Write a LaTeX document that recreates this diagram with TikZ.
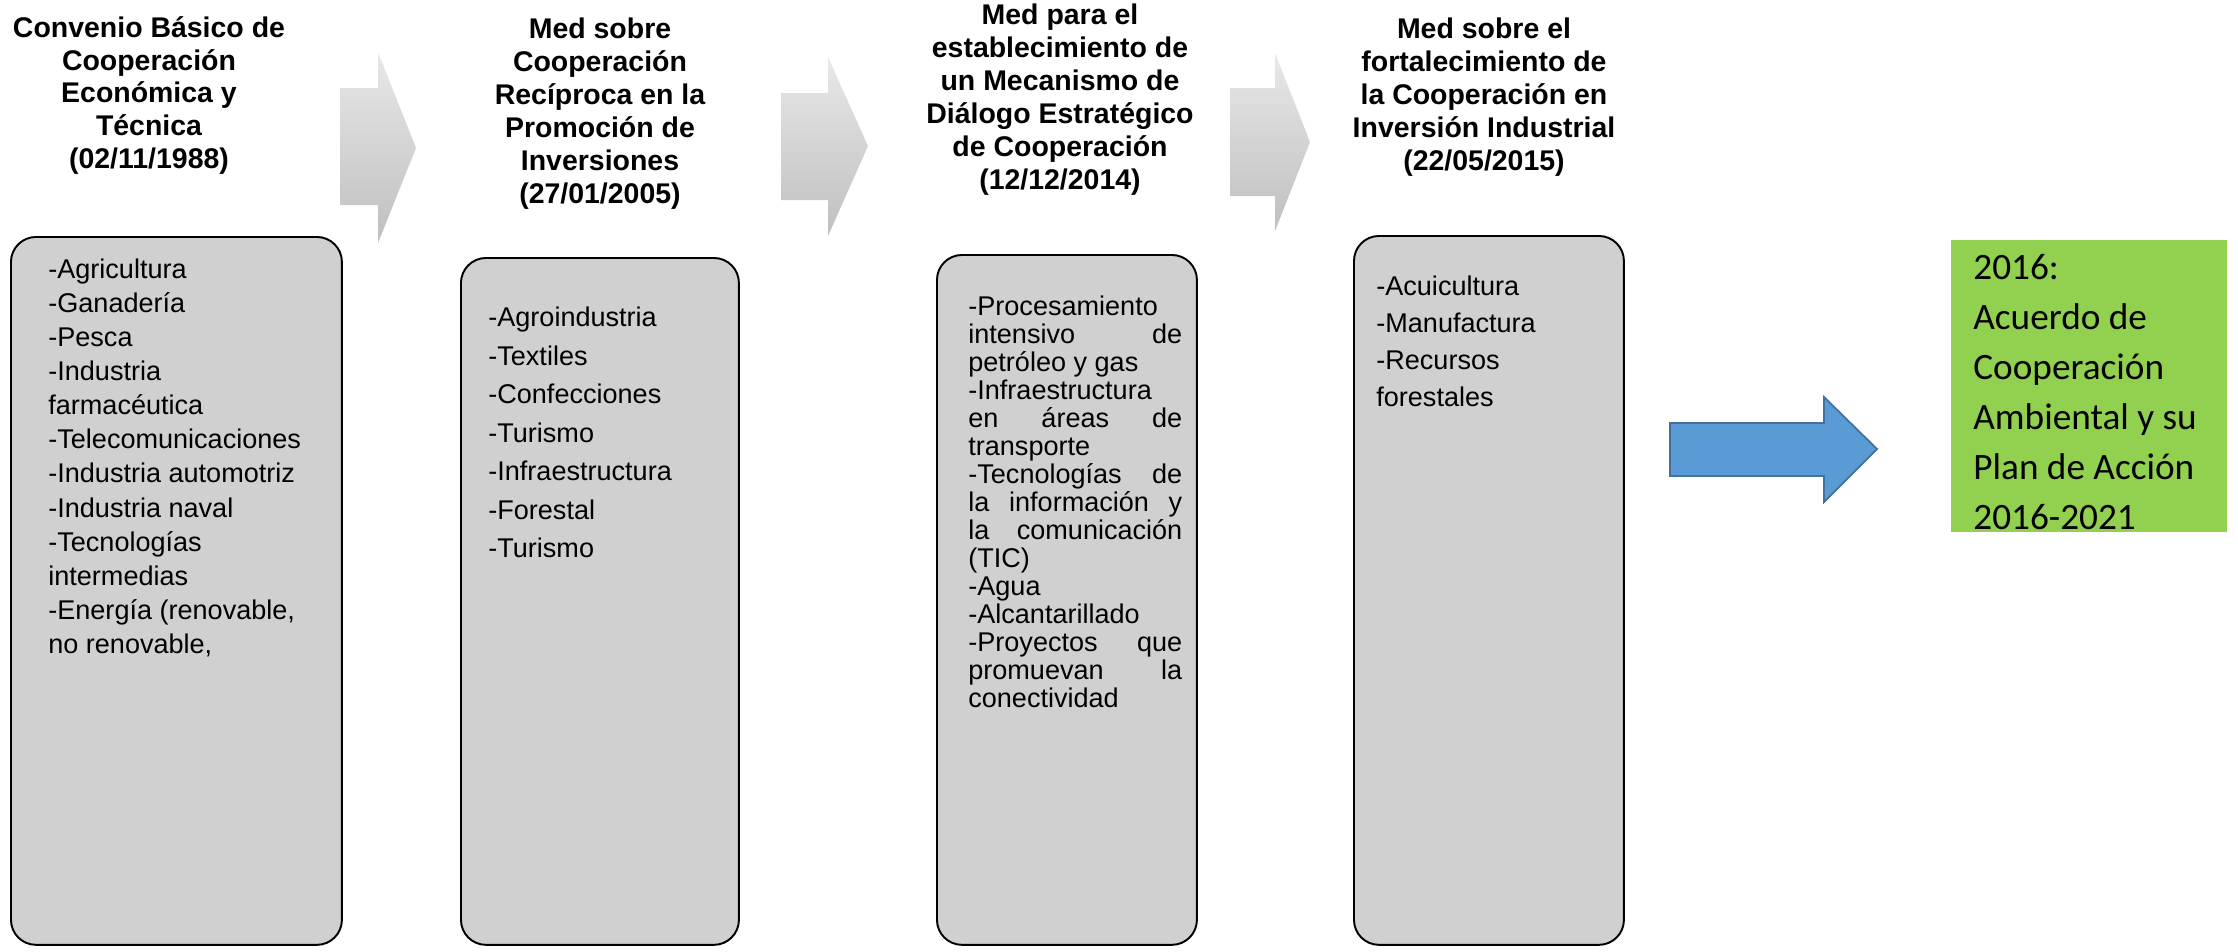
\documentclass[tikz,border=0pt]{standalone}
\usepackage{fontspec}
\setmainfont{Liberation Sans}
\newfontfamily\greenfont{Carlito}
\usetikzlibrary{positioning}

\definecolor{boxgray}{HTML}{D0D0D0}
\definecolor{accgreen}{HTML}{92D050}
\definecolor{arrblue}{HTML}{5B9BD5}
\definecolor{arrblueline}{HTML}{41719C}

\newcommand{\jline}[1]{\makebox[4.28cm][s]{#1}}

\tikzset{
  title/.style={align=center, inner sep=0pt, anchor=north,
    font=\bfseries\fontsize{16.2}{18.7}\selectfont},
  panel/.style={draw, line width=1.1pt, fill=boxgray, rounded corners=0.5cm,
    anchor=north west, inner sep=0pt},
  list/.style={align=left, inner sep=0pt, anchor=north west},
  chev/.style={top color=gray!18, bottom color=gray!50, draw=none},
}

\begin{document}
\begin{tikzpicture}[x=0.02cm, y=-0.02cm]
		\useasboundingbox (0,0) rectangle (2238,951);

		% titles
		\node[title] (t1) at (149,16) {Convenio Básico de\\Cooperación\\Económica y\\Técnica\\(02/11/1988)};
		\node[title] (t2) at (600,18) {Med sobre\\Cooperación\\Recíproca en la\\Promoción de\\Inversiones\\(27/01/2005)};
		\node[title] (t3) at (1060,4) {Med para el\\establecimiento de\\un Mecanismo de\\Diálogo Estratégico\\de Cooperación\\(12/12/2014)};
		\node[title] (t4) at (1484,18) {Med sobre el\\fortalecimiento de\\la Cooperación en\\Inversión Industrial\\(22/05/2015)};

		% grey arrows between titles
		\shade[chev] (340,88) -- (378,88) -- (378,52) -- (416,148) -- (378,243) -- (378,205) -- (340,205) -- cycle;
		\shade[chev] (781,93) -- (828,93) -- (828,57) -- (868,146) -- (828,236) -- (828,200) -- (781,200) -- cycle;
		\shade[chev] (1230,88) -- (1275,88) -- (1275,53) -- (1310,142) -- (1275,231) -- (1275,196) -- (1230,196) -- cycle;

		% boxes
		\node[panel, minimum width=6.62cm, minimum height=14.16cm] (b1) at (10,236) {};
		\node[panel, minimum width=5.56cm, minimum height=13.74cm] (b2) at (460,257) {};
		\node[panel, minimum width=5.2cm, minimum height=13.8cm] (b3) at (936,254) {};
		\node[panel, minimum width=5.4cm, minimum height=14.18cm] (b4) at (1353,235) {};

		\node[list, font=\fontsize{15.4}{19.4}\selectfont] (l1) at (48,258.5)
			{-Agricultura\\-Ganadería\\-Pesca\\-Industria\\farmacéutica\\-Telecomunicaciones\\-Industria automotriz\\-Industria naval\\-Tecnologías\\intermedias\\-Energía (renovable,\\no renovable,};
		\node[list, font=\fontsize{15.4}{21.9}\selectfont] (l2) at (488,307)
			{-Agroindustria\\-Textiles\\-Confecciones\\-Turismo\\-Infraestructura\\-Forestal\\-Turismo};
		\node[list, font=\fontsize{15.4}{15.9}\selectfont] (l3) at (968,296)
			{-Procesamiento\\\jline{intensivo de}\\petróleo y gas\\-Infraestructura\\\jline{en áreas de}\\transporte\\\jline{-Tecnologías de}\\\jline{la información y}\\\jline{la comunicación}\\(TIC)\\-Agua\\-Alcantarillado\\\jline{-Proyectos que}\\\jline{promuevan la}\\conectividad};
		\node[list, font=\fontsize{15.4}{21}\selectfont] (l4) at (1376,275.5)
			{-Acuicultura\\-Manufactura\\-Recursos\\forestales};

		% final step
		\draw[fill=arrblue, draw=arrblueline, line width=1pt] (1670,423) -- (1824,423) -- (1824,397) -- (1877,449) -- (1824,502) -- (1824,476) -- (1670,476) -- cycle;
		\node[fill=accgreen, anchor=north west, minimum width=5.52cm, minimum height=5.84cm, inner sep=0pt] (g) at (1951,240) {};
		\node[list, font=\greenfont\fontsize{21.2}{28.4}\selectfont] (gt) at (1973,254)
			{2016:\\Acuerdo de\\Cooperación\\Ambiental y su\\Plan de Acción\\2016-2021};
	\end{tikzpicture}
\end{document}
